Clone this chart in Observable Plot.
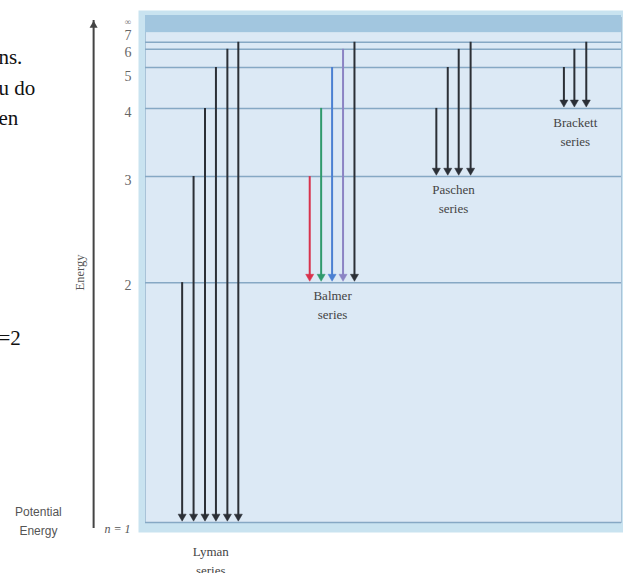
<!DOCTYPE html>
<html><head><meta charset="utf-8">
<script src="https://cdn.jsdelivr.net/npm/d3@7"></script>
<script src="https://cdn.jsdelivr.net/npm/@observablehq/plot@0.6"></script>
<style>body{margin:0;background:#fff;} #chart{width:623px;height:573px;overflow:hidden}</style>
</head><body><div id="chart"></div>
<script>
// Energy levels (stylized diagram units, 0 = n=1, 100 = top of panel)
const levelN = [1, 2, 3, 4, 5, 6, 7];
const levelEnergy = [0, 47.5, 68.5, 82.0, 90.1, 93.7, 95.1];
const levelLabel = ["n = 1", "2", "3", "4", "5", "6", "7"];
const levelLabelEnergy = [-1.4, 46.9, 67.7, 81.2, 88.3, 93.1, 96.5];
const continuumBand = [97.0, 100];
const continuumLabel = "∞";
const continuumLabelEnergy = 99.0;

// Series: lower level, upper levels, horizontal positions (0-100 across panel), colours
const seriesNames = ["Lyman", "Balmer", "Paschen", "Brackett"];
const seriesLower = [1, 2, 3, 4];
const lymanUpper = [2, 3, 4, 5, 6, 7];
const lymanX = [7.7, 10.1, 12.5, 14.8, 17.2, 19.5];
const balmerUpper = [3, 4, 5, 6, 7];
const balmerX = [34.5, 36.9, 39.2, 41.5, 43.9];
const balmerColors = ["#d8324c", "#2f9a6c", "#4b80d2", "#8b84c4", "#2b2f36"];
const paschenUpper = [4, 5, 6, 7];
const paschenX = [61.1, 63.5, 65.8, 68.3];
const brackettUpper = [5, 6, 7];
const brackettX = [87.9, 90.1, 92.6];
const seriesLabelX = [13.7, 39.3, 64.7, 90.3];
const seriesLabelEnergy = [-7.3, 43.4, 64.3, 77.6];

const E = n => levelEnergy[levelN.indexOf(n)];
const dark = "#2b2f36";

const transitions = [];
function addSeries(lower, uppers, xs, colors) {
  uppers.forEach((u, i) => transitions.push({x: xs[i], from: E(u), to: E(lower), color: colors ? colors[i] : dark}));
}
addSeries(seriesLower[0], lymanUpper, lymanX);
addSeries(seriesLower[1], balmerUpper, balmerX, balmerColors);
addSeries(seriesLower[2], paschenUpper, paschenX);
addSeries(seriesLower[3], brackettUpper, brackettX);

const levels = levelN.map((n, i) => ({n, e: levelEnergy[i], label: levelLabel[i], le: levelLabelEnergy[i]}));
const seriesLabels = seriesNames.map((s, i) => ({text: s + "\nseries", x: seriesLabelX[i], e: seriesLabelEnergy[i]}));

// Left-side annotation positions (diagram units, outside panel)
const axisX = -10.9;
const axisTop = 99.4;
const levelLabelX = -3.7;
const energyLabel = {text: "Energy", x: -13.7, e: 49.5};
const potentialLabel = {text: "Potential\nEnergy", x: -22.5, e: 0.7};
const fragments = [
  {text: "ns.", e: 92.1},
  {text: "u do", e: 85.9},
  {text: "en", e: 80.0},
  {text: "=2", e: 36.5}
];
const fragmentX = -30.9;

const serif = "Liberation Serif, Times New Roman, serif";

const chart = Plot.plot({
  width: 623, height: 573,
  marginLeft: 145, marginRight: 2, marginTop: 17, marginBottom: 51,
  x: {domain: [0, 100], axis: null},
  y: {domain: [0, 100], axis: null},
  style: {background: "#fff", overflow: "visible"},
  marks: [
    Plot.frame({fill: "#c9e3f0", stroke: null, insetLeft: -7, insetTop: -7, insetRight: -2, insetBottom: -10}),
    Plot.frame({fill: "#dce9f5", stroke: "#a9c3d8"}),
    Plot.rect([continuumBand], {x1: 0, x2: 100, y1: d => d[0], y2: d => d[1], fill: "#a2c6df", insetTop: -2}),
    Plot.ruleY(levels, {y: "e", stroke: "#86a8c4", strokeWidth: 1.5}),
    // transitions
    Plot.ruleX(transitions, {x: "x", y1: "from", y2: "to", stroke: "color", strokeWidth: 2, insetBottom: 6}),
    Plot.dot(transitions, {x: "x", y: "to", symbol: "triangle", rotate: 180, r: 3, fill: "color", stroke: "color", strokeWidth: 0.5, dy: -6}),
    // series labels
    Plot.text(seriesLabels, {x: "x", y: "e", text: "text", fontFamily: serif, fontSize: 13, fill: "#444", lineHeight: 1.45}),
    // level labels
    Plot.text(levels.filter(d => d.n > 1), {x: levelLabelX, y: "le", text: "label", fontFamily: serif, fontSize: 14, fill: "#666"}),
    Plot.text(levels.filter(d => d.n === 1), {x: -3.15, y: "le", text: "label", textAnchor: "end", fontFamily: serif, fontStyle: "italic", fontSize: 12, fill: "#555"}),
    Plot.text([continuumLabel], {x: levelLabelX, y: continuumLabelEnergy, text: d => d, fontFamily: serif, fontSize: 9, fill: "#777"}),
    // energy axis arrow
    Plot.ruleX([axisX], {x: d => d, y1: 0, y2: axisTop, stroke: "#444", strokeWidth: 2, insetTop: 6}),
    Plot.dot([axisX], {x: d => d, y: axisTop, symbol: "triangle", r: 3, fill: "#444", dy: 5}),
    Plot.text([energyLabel], {x: "x", y: "e", text: "text", rotate: -90, fontFamily: serif, fontSize: 12.5, fill: "#555"}),
    Plot.text([potentialLabel], {x: "x", y: "e", text: "text", fontFamily: "Liberation Sans, Arial, sans-serif", fontSize: 12, fill: "#555", lineHeight: 1.6}),
    // cropped fragments of surrounding text
    Plot.text(fragments, {x: fragmentX, y: "e", text: "text", textAnchor: "start", fontFamily: serif, fontSize: 21, fill: "#111"})
  ]
});
document.getElementById("chart").appendChild(chart);
</script>
</body></html>
